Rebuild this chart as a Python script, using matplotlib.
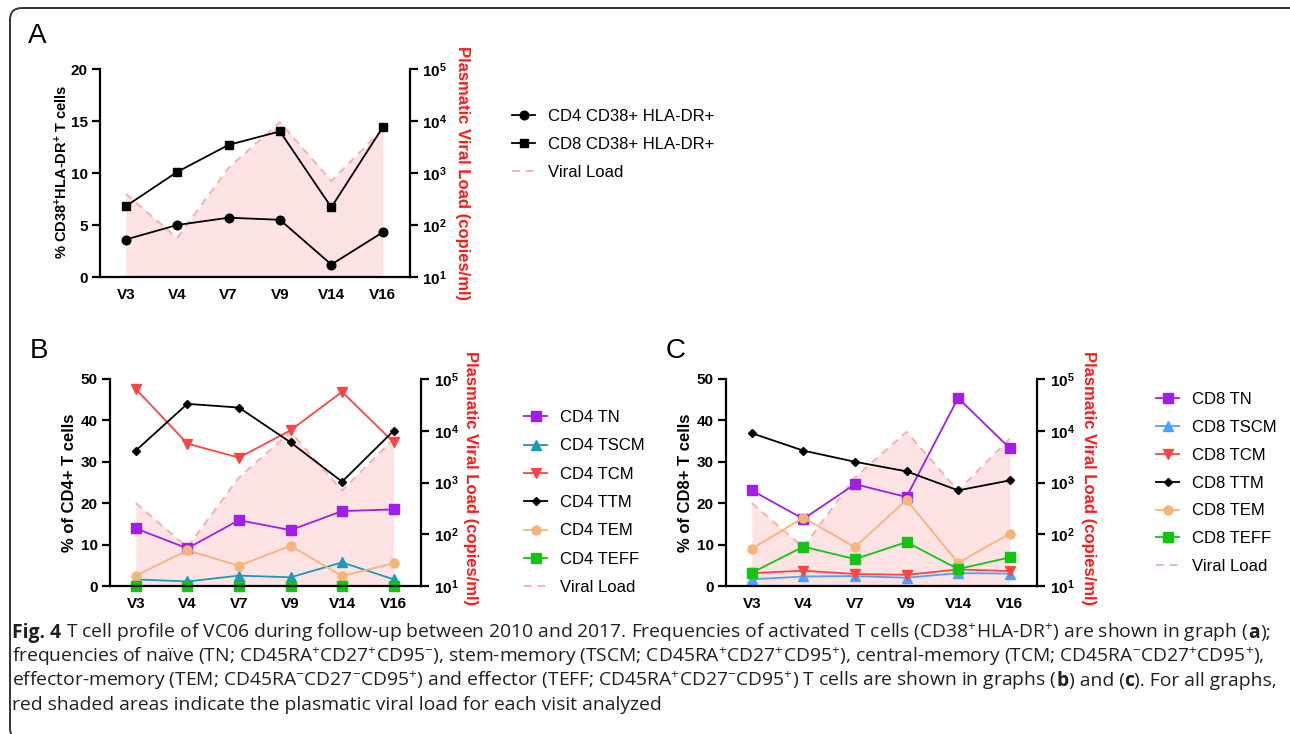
import matplotlib
matplotlib.use('Agg')
import matplotlib.pyplot as plt
from matplotlib.patches import FancyBboxPatch
from matplotlib.transforms import IdentityTransform
from matplotlib.ticker import NullLocator

plt.rcParams['font.family'] = ['Liberation Sans', 'DejaVu Sans']
plt.rcParams['mathtext.default'] = 'regular'

W, H = 1290, 734

# ---------------- data ----------------
visits = ['V3', 'V4', 'V7', 'V9', 'V14', 'V16']
viral_load = [400, 56, 1250, 9500, 700, 7000]

cd4_act = [3.6, 5.0, 5.7, 5.5, 1.2, 4.3]
cd8_act = [6.8, 10.1, 12.7, 14.0, 6.7, 14.4]

cd4_tn = [13.9, 9.1, 15.9, 13.5, 18.1, 18.5]
cd4_tscm = [1.6, 1.1, 2.5, 2.1, 5.7, 1.6]
cd4_tcm = [47.6, 34.4, 31.0, 37.6, 46.9, 34.7]
cd4_ttm = [32.7, 44.0, 43.1, 34.7, 25.2, 37.5]
cd4_tem = [2.5, 8.6, 4.9, 9.7, 2.4, 5.5]
cd4_teff = [0.0, 0.0, 0.0, 0.0, 0.0, 0.0]

cd8_tn = [23.1, 16.2, 24.6, 21.5, 45.4, 33.3]
cd8_tscm = [1.6, 2.3, 2.4, 2.0, 3.1, 3.0]
cd8_tcm = [3.1, 3.7, 2.9, 2.7, 4.0, 3.6]
cd8_ttm = [36.9, 32.7, 30.0, 27.7, 23.1, 25.5]
cd8_tem = [9.0, 16.5, 9.4, 20.8, 5.6, 12.6]
cd8_teff = [3.2, 9.5, 6.5, 10.6, 4.1, 6.9]

vl_ticks = [10, 100, 1000, 10000, 100000]
vl_tick_labels = [r'$10^{1}$', r'$10^{2}$', r'$10^{3}$', r'$10^{4}$', r'$10^{5}$']

FILL = '#fde3e3'
DASH = '#f6b1b1'
PURPLE = '#a11ee8'
TEAL = '#1f98b9'
LBLUE = '#4fa2fb'
RED = '#fb4545'
ORANGE = '#f4b57c'
GREEN = '#14c414'

TICK_FS = 11

fig = plt.figure(figsize=(W / 100, H / 100), dpi=100)


def rect(l, t, r, b):
    return [l / W, 1 - b / H, (r - l) / W, (b - t) / H]


def panel(r, ylim, yticks, series, ylabel, ylab_x, ylab_y, ylab_size,
          vl_x, vl_y, leg_x, leg_top, leg_ls):
    ax = fig.add_axes(rect(*r))
    ax2 = ax.twinx()
    x = list(range(len(visits)))
    ax2.set_yscale('log')
    ax2.set_ylim(10, 1e5)
    ax2.fill_between(x, viral_load, 10, color=FILL, lw=0)
    vl_line, = ax2.plot(x, viral_load, color=DASH, ls=(0, (4, 3)), lw=1.4,
                        label='Viral Load')
    ax.set_zorder(ax2.get_zorder() + 1)
    ax.patch.set_visible(False)
    handles = []
    for vals, lab, col, mk, ms in series:
        h, = ax.plot(x, vals, color=col, marker=mk, ms=ms, lw=1.3, label=lab,
                     clip_on=False)
        handles.append(h)
    handles.append(vl_line)
    ax.set_xlim(-0.5, 5.53)
    ax.set_ylim(*ylim)
    for s in ['top', 'right']:
        ax.spines[s].set_visible(False)
    for s in ['left', 'bottom']:
        ax.spines[s].set_linewidth(1.6)
    for s in ['top', 'left', 'bottom']:
        ax2.spines[s].set_visible(False)
    ax2.spines['right'].set_linewidth(1.6)
    ax.set_yticks(yticks, labels=[str(v) for v in yticks], fontweight='bold',
                  fontsize=TICK_FS)
    ax.tick_params(axis='y', direction='out', length=6, width=1.6, pad=3)
    ax.set_xticks(x, labels=visits, fontweight='bold', fontsize=TICK_FS)
    ax.tick_params(axis='x', length=0, pad=8)
    ax2.set_yticks(vl_ticks, labels=vl_tick_labels, fontweight='bold',
                   fontsize=TICK_FS)
    ax2.yaxis.set_minor_locator(NullLocator())
    ax2.tick_params(axis='y', direction='out', length=6, width=1.6, pad=3)
    ax.text(ylab_x, ylab_y, ylabel, transform=ax.transAxes, rotation=90,
            ha='center', va='center', fontweight='bold', fontsize=ylab_size)
    ax2.text(vl_x, vl_y, 'Plasmatic Viral Load (copies/ml)',
             transform=ax2.transAxes, rotation=270, ha='center', va='center',
             color='#ff1a1a', fontweight='bold', fontsize=12)
    ax.legend(handles=handles, loc='upper left',
              bbox_to_anchor=(leg_x / W, 1 - leg_top / H),
              bbox_transform=fig.transFigure, frameon=False, borderpad=0,
              borderaxespad=0, handlelength=1.4, handletextpad=0.75,
              labelspacing=leg_ls, fontsize=12)
    return ax


# Panel A
panel((100, 69, 410, 277), (0, 20), [0, 5, 10, 15, 20],
      [(cd4_act, 'CD4 CD38+ HLA-DR+', 'black', 'o', 6.2),
       (cd8_act, 'CD8 CD38+ HLA-DR+', 'black', 's', 6.0)],
      '% CD38$^{+}$HLA-DR$^{+}$ T cells', -0.125, 0.507, 10.5,
      1.168, 0.5, 512, 109, 0.78)

# Panel B
panel((110, 379, 421, 586), (0, 50), [0, 10, 20, 30, 40, 50],
      [(cd4_tn, 'CD4 TN', PURPLE, 's', 6.5),
       (cd4_tscm, 'CD4 TSCM', TEAL, '^', 6.5),
       (cd4_tcm, 'CD4 TCM', RED, 'v', 6.5),
       (cd4_ttm, 'CD4 TTM', 'black', 'D', 4.5),
       (cd4_tem, 'CD4 TEM', ORANGE, 'o', 6.5),
       (cd4_teff, 'CD4 TEFF', GREEN, 's', 6.5)],
      '% of CD4+ T cells', -0.13, 0.5, 12,
      1.158, 0.52, 524, 410, 0.8)

# Panel C
panel((726, 379, 1037, 586), (0, 50), [0, 10, 20, 30, 40, 50],
      [(cd8_tn, 'CD8 TN', PURPLE, 's', 6.5),
       (cd8_tscm, 'CD8 TSCM', LBLUE, '^', 6.5),
       (cd8_tcm, 'CD8 TCM', RED, 'v', 6.5),
       (cd8_ttm, 'CD8 TTM', 'black', 'D', 4.5),
       (cd8_tem, 'CD8 TEM', ORANGE, 'o', 6.5),
       (cd8_teff, 'CD8 TEFF', GREEN, 's', 6.5)],
      '% of CD8+ T cells', -0.13, 0.5, 12,
      1.164, 0.52, 1156, 392, 0.77)

# Panel letters
for letter, px, py in [('A', 37, 36), ('B', 39, 351), ('C', 676, 351)]:
    fig.text(px / W, 1 - py / H, letter, fontsize=20, ha='center',
             va='center', family=['Liberation Sans', 'DejaVu Sans'])

# Frame
frame = FancyBboxPatch((10, -6), 1300, 732, boxstyle='round,pad=0,rounding_size=12',
                       transform=IdentityTransform(), fill=False,
                       edgecolor='#333333', linewidth=1.4)
fig.add_artist(frame)

# Caption
CAPFAM = ['Open Sans', 'DejaVu Sans']
cap_lines = [
    [('Fig. 4', 'bold'),
     (' T cell profile of VC06 during follow-up between 2010 and 2017. Frequencies of activated T cells (CD38$^{+}$HLA-DR$^{+}$) are shown in graph (', 'normal'),
     ('a', 'bold'), (');', 'normal')],
    [('frequencies of na\u00efve (TN; CD45RA$^{+}$CD27$^{+}$CD95$^{-}$), stem-memory (TSCM; CD45RA$^{+}$CD27$^{+}$CD95$^{+}$), central-memory (TCM; CD45RA$^{-}$CD27$^{+}$CD95$^{+}$),', 'normal')],
    [('effector-memory (TEM; CD45RA$^{-}$CD27$^{-}$CD95$^{+}$) and effector (TEFF; CD45RA$^{+}$CD27$^{-}$CD95$^{+}$) T cells are shown in graphs (', 'normal'),
     ('b', 'bold'), (') and (', 'normal'), ('c', 'bold'), ('). For all graphs,', 'normal')],
    [('red shaded areas indicate the plasmatic viral load for each visit analyzed', 'normal')],
]
cap_baselines = [638, 662, 686, 710]
renderer = fig.canvas.get_renderer()


def draw_line(segs, x0, yb, size, keep=True):
    x = x0
    made = []
    for s, w in segs:
        t = fig.text(x / W, 1 - yb / H, s, fontsize=size, fontweight=w,
                     family=CAPFAM, ha='left', va='baseline', color='#231f20')
        bb = t.get_window_extent(renderer)
        x = bb.x1
        made.append(t)
    if not keep:
        for t in made:
            t.remove()
    return x - x0


base = 12.0
wid = draw_line(cap_lines[0], 12, cap_baselines[0], base, keep=False)
cap_size = base * 1256 / wid
for segs, yb in zip(cap_lines, cap_baselines):
    draw_line(segs, 12, yb, cap_size)

fig.savefig('out.png', dpi=100)
